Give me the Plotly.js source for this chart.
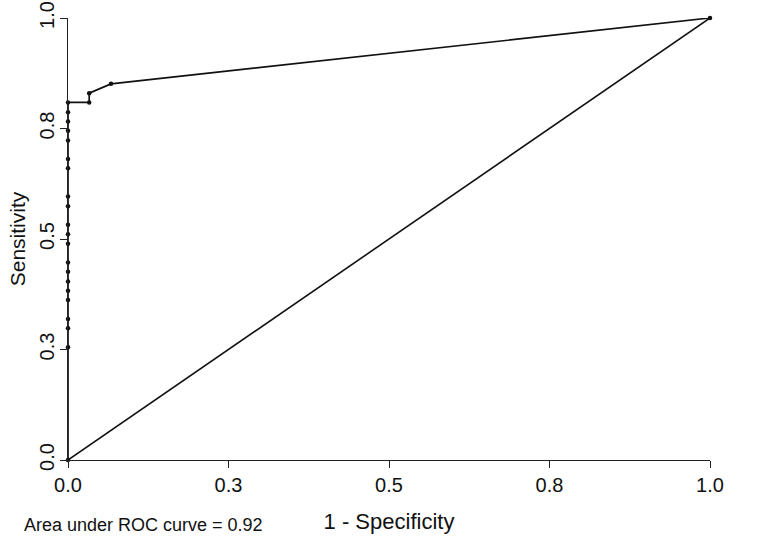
<!DOCTYPE html>
<html>
<head>
<meta charset="utf-8">
<script src="https://cdn.plot.ly/plotly-3.0.1.min.js"></script>
<style>
  html, body { margin: 0; padding: 0; background: #fff; }
  #chart { width: 758px; height: 545px; }
</style>
</head>
<body>
<div id="chart"></div>
<script>
// ROC points: 1 - specificity and sensitivity
const fpr = [0, 0, 0, 0, 0, 0, 0, 0, 0, 0, 0, 0, 0, 0, 0, 0, 0, 0, 0, 0, 0,
             0.033, 0.033, 0.067, 1.0];
const sens = [0, 0.255, 0.298, 0.319, 0.362, 0.383, 0.404, 0.426, 0.447, 0.489, 0.511,
              0.532, 0.574, 0.596, 0.660, 0.681, 0.723, 0.745, 0.766, 0.787, 0.809,
              0.809, 0.830, 0.851, 1.0];
const refLine = [0, 1];

const tickVals = [0, 0.25, 0.5, 0.75, 1];
const tickText = ["0.0", "0.3", "0.5", "0.8", "1.0"];
const aucText = "Area under ROC curve = 0.92";

const font = "Liberation Sans, Arial, sans-serif";

const traces = [
  { x: refLine, y: refLine, mode: "lines", line: { color: "#111", width: 1.6 },
    hoverinfo: "skip", cliponaxis: false },
  { x: fpr, y: sens, mode: "lines+markers",
    line: { color: "#111", width: 1.7 },
    marker: { color: "#111", size: 4.5 }, cliponaxis: false }
];

const axisCommon = {
  range: [0, 1],
  showgrid: false,
  zeroline: false,
  showline: true,
  linecolor: "#222",
  linewidth: 1.3,
  ticks: "outside",
  ticklen: 7,
  tickwidth: 1.2,
  tickcolor: "#222",
  tickvals: tickVals,
  ticktext: tickText,
  ticklabeloverflow: "allow",
  tickfont: { family: font, size: 20, color: "#111" }
};

const layout = {
  width: 758,
  height: 545,
  margin: { l: 68, r: 48, t: 18, b: 85 },
  paper_bgcolor: "#fff",
  plot_bgcolor: "#fff",
  showlegend: false,
  xaxis: Object.assign({}, axisCommon, {
    title: { text: "1 - Specificity", font: { family: font, size: 22, color: "#111" }, standoff: 18 }
  }),
  yaxis: Object.assign({}, axisCommon, {
    tickangle: -90,
    ticklabelstandoff: -2,
    title: { text: "Sensitivity", font: { family: font, size: 21, color: "#111" }, standoff: 4 }
  }),
  annotations: [{
    text: aucText, xref: "paper", yref: "paper", x: -0.072, y: -0.146,
    xanchor: "left", yanchor: "middle", showarrow: false,
    font: { family: font, size: 18, color: "#111" }
  }]
};

Plotly.newPlot("chart", traces, layout, { displayModeBar: false });
</script>
</body>
</html>
